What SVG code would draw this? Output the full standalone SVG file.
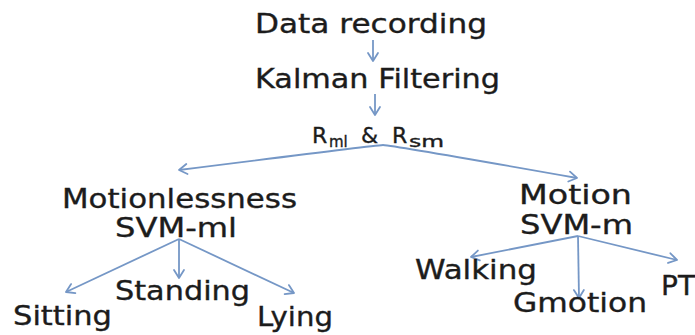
<svg xmlns="http://www.w3.org/2000/svg" width="695" height="335" viewBox="0 0 695 335">
  <defs>
    <marker id="open" markerUnits="userSpaceOnUse" markerWidth="12" markerHeight="12" refX="9" refY="5" orient="auto" overflow="visible">
      <path d="M1,0 L9,5 L1,10" fill="none" stroke="#7597c6" stroke-width="1.8" stroke-linecap="round" stroke-linejoin="round"/>
    </marker>
    <style>
      .lbl { font-family: "DejaVu Sans", "Open Sans", sans-serif; font-size: 26px; fill: #1c1c1c; stroke: #1c1c1c; stroke-width: 0.35px; }
      .big { font-size: 22px; }
      .sub { font-size: 15px; }
      .edge { stroke: #7597c6; stroke-width: 1.8; fill: none; marker-end: url(#open); }
    </style>
  </defs>
  <rect width="695" height="335" fill="#fff"/>

  <g id="connectors">
    <line class="edge" x1="373" y1="40" x2="373" y2="61"/>
    <line class="edge" x1="375" y1="94" x2="375" y2="115"/>
    <path class="edge" d="M383,145 Q370,146 179,170"/>
    <path class="edge" d="M383,145 Q396,146 577,178"/>
    <line class="edge" x1="179" y1="239" x2="66" y2="292"/>
    <line class="edge" x1="179" y1="239" x2="179" y2="278"/>
    <line class="edge" x1="179" y1="239" x2="294" y2="293"/>
    <line class="edge" x1="578" y1="236" x2="471" y2="257"/>
    <line class="edge" x1="578" y1="236" x2="579" y2="298"/>
    <line class="edge" x1="578" y1="236" x2="677" y2="260"/>
  </g>

  <g id="data-recording"><text class="lbl" x="255" y="33" textLength="232" lengthAdjust="spacingAndGlyphs">Data recording</text></g>
  <g id="kalman"><text class="lbl" x="255" y="88" textLength="245" lengthAdjust="spacingAndGlyphs">Kalman Filtering</text></g>
  <g id="ratios">
    <text class="lbl" y="143"><tspan x="312" class="big">R</tspan><tspan x="329" dy="4" class="sub">ml</tspan><tspan x="361" dy="-4" class="big">&amp;</tspan><tspan x="392" class="big">R</tspan><tspan x="409" dy="4" class="sub" textLength="35" lengthAdjust="spacingAndGlyphs">sm</tspan></text>
  </g>
  <g id="motionlessness">
    <text class="lbl" x="62" y="208" textLength="235" lengthAdjust="spacingAndGlyphs">Motionlessness</text>
    <text class="lbl" x="115" y="237" textLength="122" lengthAdjust="spacingAndGlyphs">SVM-ml</text>
  </g>
  <g id="sitting"><text class="lbl" x="13" y="325" textLength="99" lengthAdjust="spacingAndGlyphs">Sitting</text></g>
  <g id="standing"><text class="lbl" x="115" y="300" textLength="135" lengthAdjust="spacingAndGlyphs">Standing</text></g>
  <g id="lying"><text class="lbl" x="257" y="326" textLength="76" lengthAdjust="spacingAndGlyphs">Lying</text></g>
  <g id="motion">
    <text class="lbl" x="519" y="204" textLength="113" lengthAdjust="spacingAndGlyphs">Motion</text>
    <text class="lbl" x="520" y="234" textLength="113" lengthAdjust="spacingAndGlyphs">SVM-m</text>
  </g>
  <g id="walking"><text class="lbl" x="415" y="279" textLength="122" lengthAdjust="spacingAndGlyphs">Walking</text></g>
  <g id="gmotion"><text class="lbl" x="513" y="312" textLength="134" lengthAdjust="spacingAndGlyphs">Gmotion</text></g>
  <g id="pt"><text class="lbl" x="661" y="295" textLength="34" lengthAdjust="spacingAndGlyphs">PT</text></g>
</svg>
